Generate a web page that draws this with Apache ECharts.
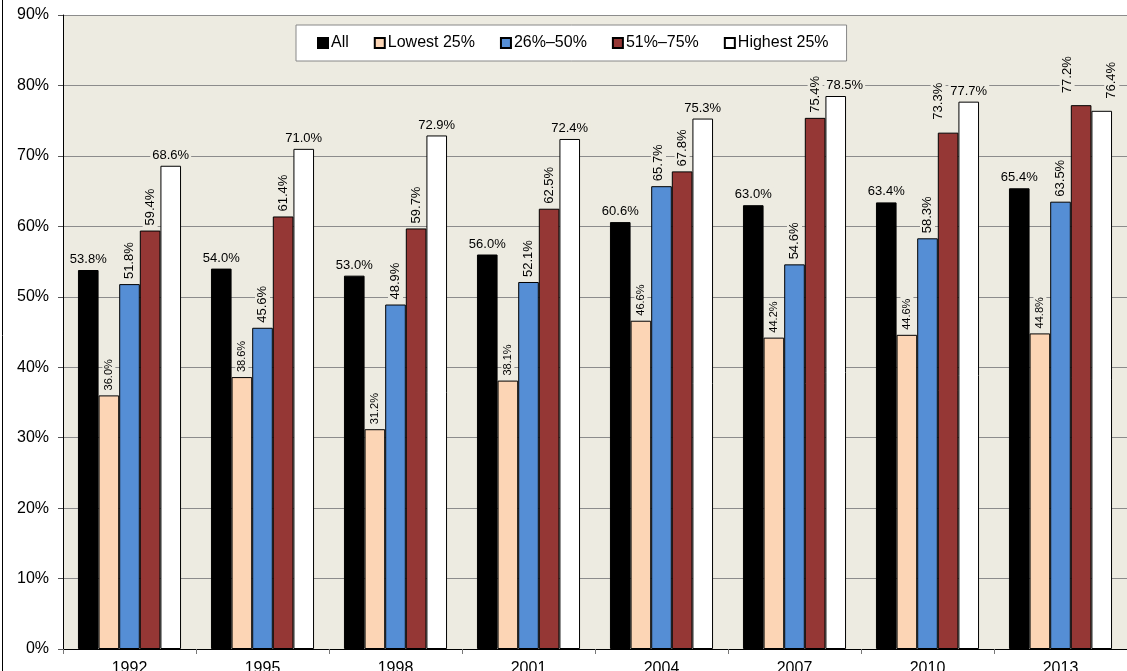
<!DOCTYPE html>
<html>
<head>
<meta charset="utf-8">
<script src="https://cdn.jsdelivr.net/npm/echarts@6/dist/echarts.min.js"></script>
<style>
html,body{margin:0;padding:0;background:#fff;}
#chart{width:1127px;height:671px;}
</style>
</head>
<body>
<div id="chart"></div>
<script>
const categories = ['1992','1995','1998','2001','2004','2007','2010','2013'];
const seriesNames = ['All','Lowest 25%','26%\u201350%','51%\u201375%','Highest 25%'];
const allValues     = [53.8, 54.0, 53.0, 56.0, 60.6, 63.0, 63.4, 65.4];
const lowestValues  = [36.0, 38.6, 31.2, 38.1, 46.6, 44.2, 44.6, 44.8];
const q2Values      = [51.8, 45.6, 48.9, 52.1, 65.7, 54.6, 58.3, 63.5];
const q3Values      = [59.4, 61.4, 59.7, 62.5, 67.8, 75.4, 73.3, 77.2];
const highestValues = [68.6, 71.0, 72.9, 72.4, 75.3, 78.5, 77.7, 76.4];
const yTicks = [0,10,20,30,40,50,60,70,80,90];

const seriesData = [allValues, lowestValues, q2Values, q3Values, highestValues];
const colors = ['#000000','#FCD5B5','#558ED5','#953735','#FFFFFF'];
const plotBg = '#EDEBE1';
const font = 'Arial, "Liberation Sans", sans-serif';

// label style per series: rotated or horizontal; exceptions listed by index
const rotatedSeries = [false, true, true, true, false];
const rotatedExceptions = {4: [7]}; // Highest 25% in 2013 rotated
const labelSizes = [13, 11, 13, 13, 13];
// manual label nudges [dx, dy] in screen pixels, as in the original
const labelNudges = {
  '2-4': [-3, 0],
  '4-5': [9, 0],
  '3-6': [-10, -8],
  '3-7': [-14, -7],
  '4-7': [10, -7]
};

function labelFor(si, idx) {
  const rot = rotatedSeries[si] || (rotatedExceptions[si] || []).includes(idx);
  const base = {
    show: true,
    position: 'top',
    distance: 3,
    fontSize: labelSizes[si],
    fontFamily: font,
    color: '#000',
    backgroundColor: plotBg,
    padding: [1, 2, 1, 2],
    formatter: p => Number(p.value).toFixed(1) + '%'
  };
  if (rot) {
    Object.assign(base, {rotate: 90, align: 'left', verticalAlign: 'middle'});
  }
  const n = labelNudges[si + '-' + idx];
  if (n) base.offset = rot ? [-n[1], n[0]] : n;
  return base;
}

const series = seriesData.map((vals, si) => ({
  name: seriesNames[si],
  type: 'bar',
  barGap: '0%',
  barCategoryGap: '22.5%',
  itemStyle: {color: colors[si], borderColor: '#000', borderWidth: 1},
  data: vals.map((v, i) => ({value: v, label: labelFor(si, i)})),
  z: 2
}));

const chart = echarts.init(document.getElementById('chart'), null, {renderer: 'canvas'});
chart.setOption({
  animation: false,
  backgroundColor: '#fff',
  textStyle: {fontFamily: font},
  grid: {left: 63, right: 0, top: 15, bottom: 22, show: true, backgroundColor: plotBg, borderWidth: 0,
    containLabel: false, outerBoundsMode: 'none'},
  legend: {
    left: 296, top: 25,
    backgroundColor: '#fff',
    borderColor: '#888',
    borderWidth: 1,
    padding: [10, 18, 10, 21],
    itemWidth: 10, itemHeight: 10,
    itemGap: 25,
    icon: 'rect',
    textStyle: {fontSize: 16, fontFamily: font, color: '#000', padding: [0, 0, 0, -2]},
    data: seriesNames
  },
  xAxis: {
    type: 'category',
    data: categories,
    axisLine: {lineStyle: {color: '#000', width: 1}},
    axisTick: {show: true, length: 5, lineStyle: {color: '#777'}},
    axisLabel: {fontSize: 16, color: '#000', margin: 12, fontFamily: font}
  },
  yAxis: {
    type: 'value',
    min: 0, max: 90, interval: 10,
    axisLine: {show: true, lineStyle: {color: '#000', width: 1}},
    axisTick: {show: true, length: 5, lineStyle: {color: '#555'}},
    axisLabel: {fontSize: 16, color: '#000', margin: 14, fontFamily: font,
      formatter: v => yTicks.includes(v) ? v + '%' : ''},
    splitLine: {show: true, lineStyle: {color: '#8C8C8C', width: 1}}
  },
  graphic: [{
    type: 'rect',
    shape: {x: 2.5, y: -10, width: 1200, height: 700},
    style: {fill: 'none', stroke: '#000', lineWidth: 1},
    silent: true, z: 100
  }],
  series: series
});
</script>
</body>
</html>
